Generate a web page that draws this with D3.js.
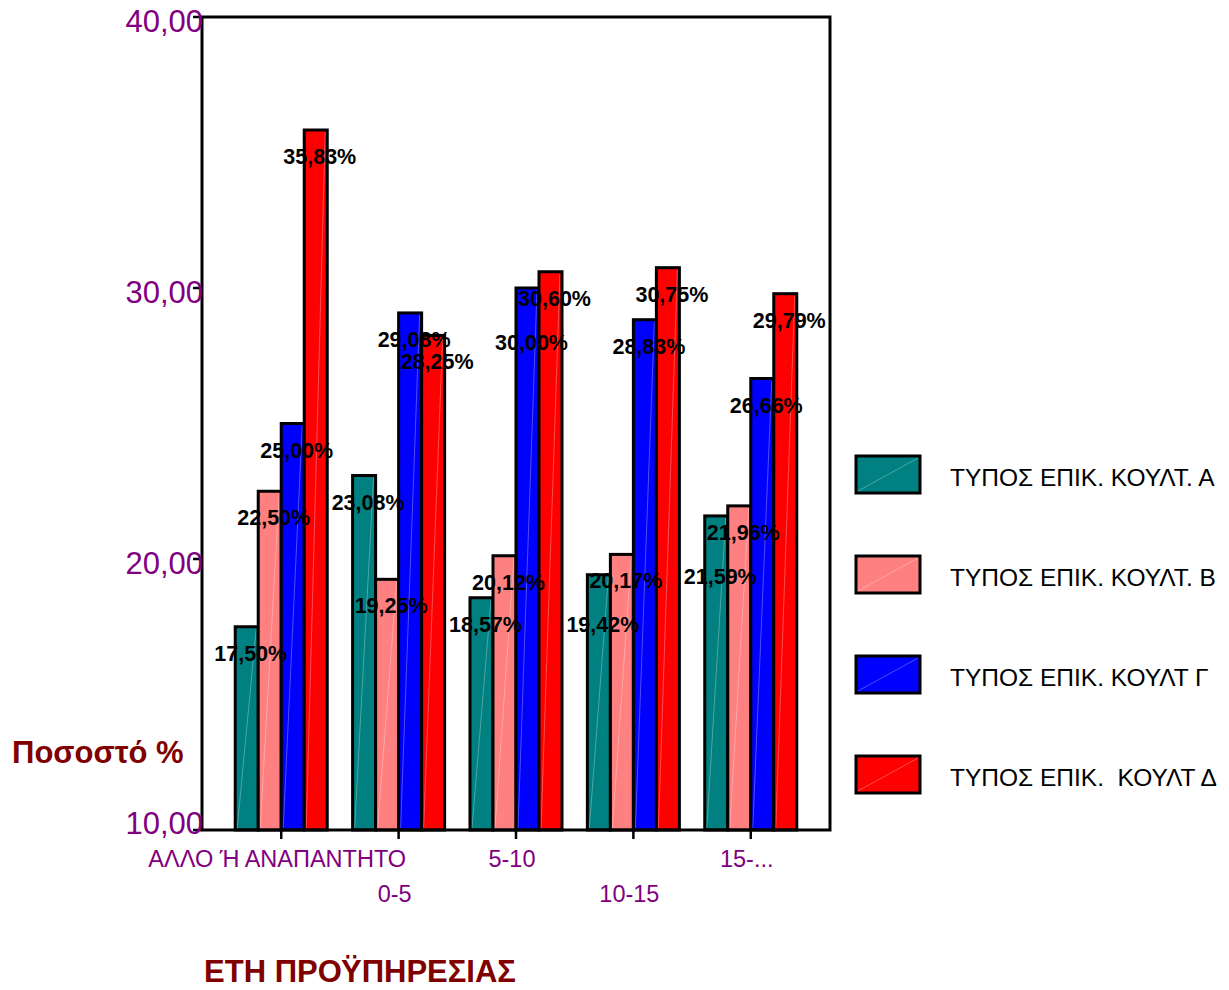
<!DOCTYPE html>
<html>
<head>
<meta charset="utf-8">
<script src="https://cdn.jsdelivr.net/npm/d3@7"></script>
<style>
  body { margin: 0; background: #fff; }
  svg { display: block; }
  text { font-family: Arial, "Liberation Sans", sans-serif; white-space: pre; }
</style>
</head>
<body>
<svg id="chart" width="1229" height="990"></svg>
<script>
// Years of service categories (x axis)
const categories = ["ΑΛΛΟ Ή ΑΝΑΠΑΝΤΗΤΟ", "0-5", "5-10", "10-15", "15-..."];

// Series names (legend)
const seriesNames = [
  "ΤΥΠΟΣ ΕΠΙΚ. ΚΟΥΛΤ. Α",
  "ΤΥΠΟΣ ΕΠΙΚ. ΚΟΥΛΤ. Β",
  "ΤΥΠΟΣ ΕΠΙΚ. ΚΟΥΛΤ Γ",
  "ΤΥΠΟΣ ΕΠΙΚ.  ΚΟΥΛΤ Δ"
];

// Percentages per series, one value per category
const typeA     = [17.50, 23.08, 18.57, 19.42, 21.59];
const typeB     = [22.50, 19.25, 20.12, 20.17, 21.96];
const typeGamma = [25.00, 29.08, 30.00, 28.83, 26.66];
const typeDelta = [35.83, 28.25, 30.60, 30.75, 29.79];

const seriesColors = ["#008080", "#FF8080", "#0000FF", "#FF0000"];

// Y axis ticks
const yTicks = [10, 20, 30, 40];
const yTickLabels = ["10,00", "20,00", "30,00", "40,00"];

const seriesValues = [typeA, typeB, typeGamma, typeDelta];

const svg = d3.select("#chart");

const plot = { left: 202, right: 830, top: 17, bottom: 830 };

const y = d3.scaleLinear().domain([10, 40]).range([plot.bottom, plot.top]);

const x0 = d3.scaleBand()
  .domain(categories)
  .range([plot.left, plot.right])
  .paddingInner(0.216)
  .paddingOuter(0.283);

const x1 = d3.scaleBand()
  .domain(d3.range(seriesNames.length))
  .range([0, x0.bandwidth()]);

const purple = "#800080";
const darkRed = "#800000";

// Bars
const groups = svg.append("g").selectAll("g")
  .data(categories)
  .join("g")
  .attr("transform", d => `translate(${x0(d)},0)`);

groups.each(function(cat, ci) {
  const g = d3.select(this);
  seriesValues.forEach((vals, si) => {
    const v = vals[ci];
    const bx = x1(si), bw = x1.bandwidth();
    const by = y(v), bh = y(10) - y(v);
    g.append("rect")
      .attr("x", bx).attr("y", by)
      .attr("width", bw).attr("height", bh)
      .attr("fill", seriesColors[si]);
    // faint diagonal sheen
    g.append("line")
      .attr("x1", bx + 2).attr("y1", by + bh - 2)
      .attr("x2", bx + bw - 2).attr("y2", by + 2)
      .attr("stroke", "#fff").attr("stroke-opacity", 0.3).attr("stroke-width", 1);
    g.append("rect")
      .attr("x", bx).attr("y", by)
      .attr("width", bw).attr("height", bh)
      .attr("fill", "none")
      .attr("stroke", "#000").attr("stroke-width", 3);
  });
});

// Frame and axes
const frame = svg.append("g").attr("stroke", "#000").attr("stroke-width", 3).attr("fill", "none");
frame.append("path")
  .attr("d", `M${plot.left},${plot.bottom} L${plot.left},${plot.top} L${plot.right},${plot.top} L${plot.right},${plot.bottom} Z`);

// Y ticks and labels
const yAxis = svg.append("g");
yTicks.forEach((t, i) => {
  const ty = y(t);
  yAxis.append("line")
    .attr("x1", plot.left - 9).attr("x2", plot.left)
    .attr("y1", ty).attr("y2", ty)
    .attr("stroke", "#000").attr("stroke-width", 2.5);
  yAxis.append("text")
    .attr("x", plot.left + 1)
    .attr("y", Math.min(ty + 15, plot.bottom + 4))
    .attr("text-anchor", "end")
    .attr("font-size", 31)
    .attr("fill", purple)
    .text(yTickLabels[i]);
});

// X ticks and staggered labels
const xAxis = svg.append("g");
categories.forEach((c, i) => {
  const cx = x0(c) + x0.bandwidth() / 2;
  xAxis.append("line")
    .attr("x1", cx).attr("x2", cx)
    .attr("y1", plot.bottom).attr("y2", plot.bottom + 9)
    .attr("stroke", "#000").attr("stroke-width", 2.5);
  xAxis.append("text")
    .attr("x", cx - 4)
    .attr("y", i % 2 === 0 ? 867 : 902)
    .attr("text-anchor", "middle")
    .attr("font-size", 23.5)
    .attr("fill", purple)
    .text(c);
});

// Value labels, nudged down when they would collide inside a group
const labelLayer = svg.append("g");
const fmt = v => d3.format(".2f")(v).replace(".", ",") + "%";
categories.forEach((c, ci) => {
  const order = d3.range(seriesNames.length)
    .sort((a, b) => seriesValues[b][ci] - seriesValues[a][ci]);
  const placed = [];
  order.forEach(si => {
    const v = seriesValues[si][ci];
    let cy = y(v) + 27;
    let moved = true;
    while (moved) {
      moved = false;
      for (const p of placed) {
        if (Math.abs(cy - p) < 21.5) { cy = p + 44; moved = true; }
      }
    }
    placed.push(cy);
    labelLayer.append("text")
      .attr("x", x0(c) + x1(si) + x1.bandwidth() / 2 + 4)
      .attr("y", cy + 7)
      .attr("text-anchor", "middle")
      .attr("font-size", 21.5)
      .attr("font-weight", "bold")
      .attr("fill", "#000")
      .text(fmt(v));
  });
});

// Axis titles
svg.append("text")
  .attr("x", 12).attr("y", 763)
  .attr("font-size", 31).attr("font-weight", "bold")
  .attr("fill", darkRed)
  .text("Ποσοστό %");

svg.append("text")
  .attr("x", 360).attr("y", 982)
  .attr("text-anchor", "middle")
  .attr("font-size", 31).attr("font-weight", "bold")
  .attr("fill", darkRed)
  .text("ΕΤΗ ΠΡΟΫΠΗΡΕΣΙΑΣ");

// Legend
const legend = svg.append("g");
seriesNames.forEach((name, i) => {
  const ly = 456 + i * 100;
  legend.append("rect")
    .attr("x", 856).attr("y", ly)
    .attr("width", 64).attr("height", 37)
    .attr("fill", seriesColors[i]);
  legend.append("line")
    .attr("x1", 858).attr("y1", ly + 35)
    .attr("x2", 918).attr("y2", ly + 2)
    .attr("stroke", "#fff").attr("stroke-opacity", 0.3).attr("stroke-width", 1);
  legend.append("rect")
    .attr("x", 856).attr("y", ly)
    .attr("width", 64).attr("height", 37)
    .attr("fill", "none")
    .attr("stroke", "#000").attr("stroke-width", 3);
  legend.append("text")
    .attr("x", 950).attr("y", ly + 18.5 + 11)
    .attr("font-size", 24.5)
    .attr("fill", "#000")
    .text(name);
});
</script>
</body>
</html>
